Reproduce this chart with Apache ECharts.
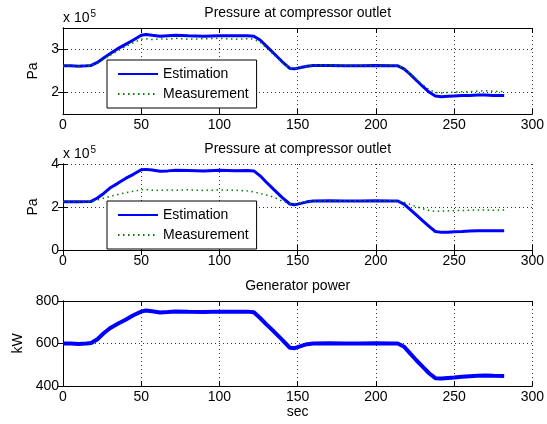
<!DOCTYPE html>
<html>
<head>
<meta charset="UTF-8">
<title>Compressor outlet pressure and generator power</title>
<style>
  * { margin: 0; padding: 0; }
  body { background: #fff; }
  #chart { width: 547px; height: 424px; }
</style>
<script src="https://cdn.jsdelivr.net/npm/echarts@6/dist/echarts.min.js"></script>
</head>
<body>
<div id="chart"></div>
<script>
// time axis (sec)
const secs = [0,5,10,15,18,22,26,30,35,40,45,50,53,57,62,67,72,80,90,100,110,118,122,126,130,135,140,145,148,152,156,160,170,180,190,200,210,214,218,222,226,230,234,238,242,246,250,255,260,265,270,275,282];

// panel 1 - pressure (x 10^5 Pa)
const est1 = [2.62,2.62,2.61,2.62,2.63,2.70,2.80,2.90,3.02,3.12,3.22,3.33,3.35,3.33,3.31,3.32,3.33,3.32,3.31,3.32,3.32,3.32,3.31,3.22,3.08,2.90,2.72,2.56,2.55,2.58,2.61,2.63,2.63,2.62,2.62,2.63,2.62,2.62,2.55,2.42,2.28,2.14,2.01,1.92,1.90,1.91,1.92,1.93,1.93,1.94,1.94,1.93,1.93];
const meas1 = [2.61,2.62,2.61,2.62,2.62,2.68,2.77,2.86,2.97,3.07,3.16,3.24,3.25,3.23,3.25,3.24,3.26,3.24,3.25,3.26,3.24,3.25,3.24,3.17,3.04,2.87,2.70,2.56,2.56,2.59,2.62,2.63,2.64,2.62,2.63,2.62,2.63,2.62,2.56,2.44,2.31,2.18,2.07,2.00,1.99,2.00,2.01,2.02,2.02,2.03,2.04,2.03,2.02];

// panel 2 - pressure (x 10^5 Pa)
const est2 = [2.25,2.25,2.24,2.25,2.26,2.42,2.63,2.88,3.10,3.33,3.52,3.73,3.75,3.72,3.66,3.68,3.71,3.70,3.68,3.71,3.69,3.70,3.68,3.45,3.15,2.80,2.45,2.14,2.10,2.17,2.24,2.28,2.29,2.28,2.28,2.29,2.28,2.28,2.13,1.88,1.62,1.36,1.10,0.86,0.82,0.83,0.85,0.86,0.88,0.89,0.89,0.90,0.90];
const meas2 = [2.25,2.24,2.26,2.25,2.26,2.33,2.41,2.49,2.58,2.66,2.73,2.80,2.82,2.78,2.77,2.79,2.78,2.80,2.77,2.79,2.78,2.75,2.70,2.63,2.56,2.45,2.28,2.16,2.15,2.20,2.25,2.28,2.29,2.28,2.29,2.28,2.29,2.28,2.23,2.12,2.01,1.92,1.84,1.80,1.81,1.82,1.83,1.84,1.85,1.86,1.86,1.85,1.86];

// panel 3 - generator power (kW)
const power = [600,600,598,600,602,620,648,672,693,712,733,750,755,752,746,748,751,749,748,750,749,750,747,720,690,655,618,580,578,588,597,600,601,600,600,601,600,600,585,552,520,490,460,437,435,438,440,443,446,448,449,448,447];

const legendNames = ['Estimation', 'Measurement'];
const titles = ['Pressure at compressor outlet', 'Pressure at compressor outlet', 'Generator power'];
const yTicks1 = [2, 3];

const FONT = 'Liberation Sans, Arial, sans-serif';
const txt = { color: '#000', fontFamily: FONT, fontSize: 14 };
const grids = [
  { left: 63, width: 470, top: 28, height: 86 },
  { left: 63, width: 470, top: 164, height: 86 },
  { left: 63, width: 470, top: 301, height: 85 }
];

const gridLine = { show: true, lineStyle: { color: '#333', width: 1, type: [1, 3] } };
const tick = { show: true, inside: true, length: 5, lineStyle: { color: '#000' } };
const line = { show: true, lineStyle: { color: '#000', width: 1 } };

function xBottom(i) {
  return {
    type: 'value', gridIndex: i, min: 0, max: 300, interval: 50,
    axisLine: line, axisTick: tick, splitLine: gridLine,
    axisLabel: Object.assign({ margin: 4 }, txt),
    name: i === 2 ? 'sec' : '', nameLocation: 'middle', nameGap: 18, nameTextStyle: txt
  };
}
function xTop(i) {
  return {
    type: 'value', gridIndex: i, position: 'top', min: 0, max: 300, interval: 50,
    axisLine: line, axisTick: tick, splitLine: { show: false }, axisLabel: { show: false },
    name: titles[i], nameLocation: 'middle', nameGap: 8, nameTextStyle: txt
  };
}

const yRanges = [
  { min: 1.5, max: 3.5 },
  { min: 0, max: 4, interval: 2 },
  { min: 400, max: 800, interval: 200 }
];
const yNames = ['Pa', 'Pa', 'kW'];
const yGaps = [22, 22, 32];

function yLeft(i) {
  const ax = Object.assign({
    type: 'value', gridIndex: i, position: 'left',
    axisLine: line, axisTick: Object.assign({}, tick), splitLine: gridLine,
    axisLabel: Object.assign({ margin: 4 }, txt),
    name: yNames[i], nameLocation: 'middle', nameRotate: 90, nameGap: yGaps[i], nameTextStyle: txt
  }, yRanges[i]);
  if (i === 0) {
    ax.axisLabel.customValues = yTicks1;
    ax.axisTick.customValues = yTicks1;
  }
  return ax;
}
function yRight(i) {
  const ax = Object.assign({
    type: 'value', gridIndex: i, position: 'right',
    axisLine: line, axisTick: Object.assign({}, tick), splitLine: { show: false }, axisLabel: { show: false }
  }, yRanges[i]);
  if (i === 0) ax.axisTick.customValues = yTicks1;
  return ax;
}

function pairs(vals) { return secs.map((t, i) => [t, vals[i]]); }

function estSeries(vals, i, w) {
  return { type: 'line', name: 'Estimation', xAxisIndex: i, yAxisIndex: i, data: pairs(vals),
    symbol: 'none', lineStyle: { color: '#0000ff', width: w || 3 },
    itemStyle: { color: '#0000ff' } };
}
function measSeries(vals, i) {
  return { type: 'line', name: 'Measurement', xAxisIndex: i, yAxisIndex: i, data: pairs(vals),
    symbol: 'none', lineStyle: { color: '#008000', width: 1.5, type: [1.5, 3.5] },
    itemStyle: { color: '#008000' } };
}

function legendAt(top) {
  return {
    data: legendNames, orient: 'vertical', left: 107, top: top,
    itemWidth: 40, itemHeight: 14, itemGap: 6, padding: [7, 8, 7, 10],
    borderColor: '#000', borderWidth: 1, backgroundColor: '#fff', borderRadius: 0,
    itemStyle: { opacity: 0 },
    selectedMode: false, textStyle: txt
  };
}

function exponent(top) {
  return {
    type: 'text', left: 63, top: top,
    style: { text: 'x 10{s|5}', fill: '#000', font: '14px ' + FONT,
      rich: { s: { fontSize: 10, fontFamily: FONT, verticalAlign: 'top', padding: [0, 0, 8, 1], fill: '#000' } } }
  };
}

const chart = echarts.init(document.getElementById('chart'));
chart.setOption({
  animation: false,
  backgroundColor: '#fff',
  textStyle: { fontFamily: FONT },
  grid: grids,
  xAxis: [xBottom(0), xBottom(1), xBottom(2), xTop(0), xTop(1), xTop(2)],
  yAxis: [yLeft(0), yLeft(1), yLeft(2), yRight(0), yRight(1), yRight(2)],
  legend: [legendAt(60), legendAt(201)],
  graphic: [exponent(9), exponent(145)],
  series: [
    estSeries(est1, 0), measSeries(meas1, 0),
    estSeries(est2, 1), measSeries(meas2, 1),
    estSeries(power, 2, 4)
  ]
});
</script>
</body>
</html>
